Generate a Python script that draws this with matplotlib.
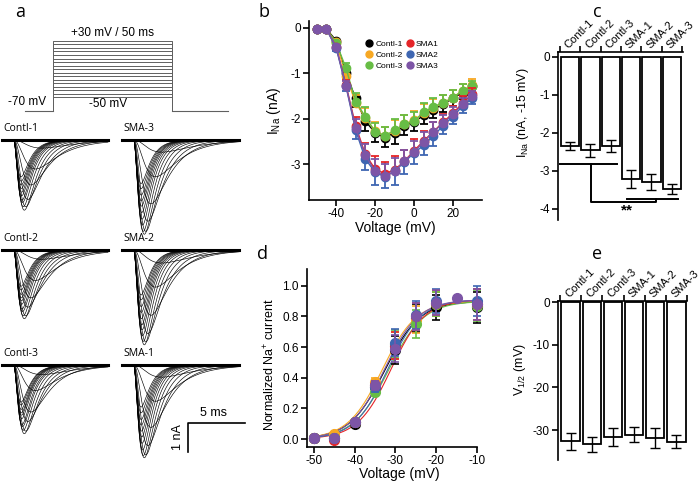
import numpy as np
import matplotlib
matplotlib.use('Agg')
import matplotlib.pyplot as plt
from matplotlib.lines import Line2D

plt.rcParams['font.family'] = ['Liberation Sans', 'DejaVu Sans']
plt.rcParams['axes.unicode_minus'] = False
plt.rcParams['mathtext.default'] = 'regular'

# ---------------- data ----------------
# panel a: voltage protocol
hold_mv = -70
step_mv = list(range(-50, 35, 5))
step_ms = 50

# panel b: I-V curves (nA)
volt_iv = [-50, -45, -40, -35, -30, -25, -20, -15, -10, -5, 0, 5, 10, 15, 20, 25, 30]
contl1_iv = [-0.03, -0.03, -0.28, -1.00, -1.55, -2.05, -2.30, -2.42, -2.30, -2.15, -2.07, -1.92, -1.80, -1.67, -1.55, -1.42, -1.27]
contl2_iv = [-0.03, -0.03, -0.32, -1.05, -1.65, -1.97, -2.27, -2.37, -2.27, -2.12, -2.03, -1.87, -1.75, -1.65, -1.53, -1.38, -1.25]
contl3_iv = [-0.03, -0.03, -0.33, -0.88, -1.62, -1.95, -2.28, -2.37, -2.25, -2.12, -2.05, -1.85, -1.73, -1.65, -1.53, -1.38, -1.28]
sma1_iv = [-0.03, -0.03, -0.42, -1.25, -2.15, -2.78, -3.10, -3.20, -3.12, -2.93, -2.70, -2.48, -2.28, -2.07, -1.88, -1.65, -1.45]
sma2_iv = [-0.03, -0.03, -0.45, -1.28, -2.25, -2.88, -3.17, -3.27, -3.15, -2.95, -2.75, -2.58, -2.37, -2.15, -1.95, -1.72, -1.55]
sma3_iv = [-0.03, -0.03, -0.42, -1.27, -2.20, -2.80, -3.15, -3.25, -3.15, -2.93, -2.73, -2.50, -2.28, -2.10, -1.90, -1.68, -1.50]
contl_err = [0.0, 0.0, 0.05, 0.10, 0.18, 0.22, 0.20, 0.20, 0.25, 0.20, 0.20, 0.20, 0.18, 0.18, 0.16, 0.15, 0.12]
sma_err = [0.0, 0.0, 0.05, 0.10, 0.20, 0.25, 0.28, 0.25, 0.30, 0.25, 0.25, 0.22, 0.22, 0.18, 0.16, 0.15, 0.12]
iv_labels = ['Contl-1', 'Contl-2', 'Contl-3', 'SMA1', 'SMA2', 'SMA3']

# panel c / e: bar summaries
groups = ['Contl-1', 'Contl-2', 'Contl-3', 'SMA-1', 'SMA-2', 'SMA-3']
ina_15 = [-2.34, -2.46, -2.34, -3.21, -3.28, -3.47]
ina_15_err = [0.10, 0.16, 0.16, 0.23, 0.21, 0.13]
vhalf = [-32.6, -33.3, -31.7, -31.1, -31.9, -32.7]
vhalf_err = [2.0, 1.8, 2.1, 1.75, 2.3, 1.6]

# panel d: activation
volt_act = [-50, -45, -40, -35, -30, -25, -20, -15, -10]
nan = np.nan
contl1_act = [0.005, 0.01, 0.10, 0.34, 0.58, 0.79, 0.86, nan, 0.86]
contl2_act = [0.01, 0.03, 0.11, 0.37, 0.61, 0.78, 0.88, nan, 0.88]
contl3_act = [0.005, 0.01, 0.11, 0.31, 0.62, 0.75, 0.88, nan, 0.87]
sma1_act = [0.005, -0.005, 0.11, 0.35, 0.61, 0.80, 0.89, nan, 0.88]
sma2_act = [0.005, 0.01, 0.11, 0.34, 0.63, 0.81, 0.90, nan, 0.90]
sma3_act = [0.005, 0.01, 0.11, 0.35, 0.59, 0.80, 0.89, 0.92, 0.88]
act_err = [0.005, 0.01, 0.01, 0.03, 0.09, 0.09, 0.08, 0.0, 0.10]
fit_k = [4.3, 4.2, 4.3, 4.1, 4.1, 4.2]
fit_max = [0.90, 0.90, 0.90, 0.91, 0.91, 0.91]

colors = ['#000000', '#f7a823', '#67bd45', '#e52528', '#3e66b2', '#7d55a6']
err_dir = [-1, 1, 1, 1, -1, 1]

W, H = 700, 484
fig = plt.figure(figsize=(W / 100, H / 100), dpi=100)


def px_axes(l, t, r, b):
    return fig.add_axes([l / W, 1 - b / H, (r - l) / W, (b - t) / H])


def style(ax, sides=('left', 'bottom')):
    for s in ['left', 'right', 'top', 'bottom']:
        ax.spines[s].set_visible(s in sides)
        ax.spines[s].set_linewidth(1.2)
    ax.tick_params(direction='out', length=4, width=1.2, labelsize=8.5, pad=2)


# ---------------- panel a ----------------
ax_p = px_axes(0, 25, 250, 120)
ax_p.axis('off')
ms_px = 2.38
ax_p.set_xlim(0, 250 / ms_px)
ax_p.set_ylim(-70 - 9 / 0.7, 30 + 16 / 0.7)
t_on, t_end = 53 / ms_px, 228 / ms_px
t_start = 25 / ms_px
for v in step_mv:
    ax_p.plot([t_on, t_on, t_on + step_ms, t_on + step_ms],
              [hold_mv, v, v, hold_mv], color='#606060', lw=0.7)
ax_p.plot([t_start, t_on], [hold_mv, hold_mv], color='#606060', lw=0.8)
ax_p.plot([t_on + step_ms, t_end], [hold_mv, hold_mv], color='#606060', lw=0.8)
ax_p.text(t_on + step_ms / 2, 33, '+30 mV / 50 ms', ha='center', va='bottom', fontsize=8.5)
ax_p.text(8 / ms_px, hold_mv + 4, '-70 mV', ha='left', va='bottom', fontsize=8.5)
ax_p.text(t_on + step_ms / 2 - 2, hold_mv + 1, '-50 mV', ha='center', va='bottom', fontsize=8.5)

# traces
ax_t = px_axes(0, 125, 250, 470)
ax_t.axis('off')
px_ms, px_na = 11.4, 29.0
ax_t.set_xlim(0, 250 / px_ms)
ax_t.set_ylim(-345 / px_na, 0)


def na_current(t, v, amp):
    # simple m^3 h shape scaled to the measured peak
    tm = 0.3 + 0.9 * np.exp(-(v + 40) / 15.0)
    th = 0.8 + 2.0 * np.exp(-(v + 40) / 12.0)
    s = np.clip(t, 0, None)
    shape = (1 - np.exp(-s / tm)) ** 3 * np.exp(-s / th)
    return amp * shape / shape.max()


col_x = [2 / px_ms, 122 / px_ms]
col_len = [9.3, 10.3]
row_y = [-(140 - 125) / px_na, -(250 - 125) / px_na, -(365 - 125) / px_na]
trace_sets = [('Contl-1', contl1_iv, 0, 0), ('SMA-3', sma3_iv, 1, 0),
              ('Contl-2', contl2_iv, 0, 1), ('SMA-2', sma2_iv, 1, 1),
              ('Contl-3', contl3_iv, 0, 2), ('SMA-1', sma1_iv, 1, 2)]
onset = 1.0
for name, iv, c, r in trace_sets:
    x0, base, ln = col_x[c], row_y[r], col_len[c]
    t = np.linspace(0, ln, 800)
    for v, amp in zip(volt_iv, iv):
        ax_t.plot(x0 + t, base + na_current(t - onset, v, amp), color='k', lw=0.45)
    ax_t.plot([x0, x0 + ln], [base, base], color='k', lw=2.2)
    ax_t.text(x0 + 0.1, base + 0.2, name, ha='left', va='bottom', fontsize=7.5,
              family=['Open Sans', 'DejaVu Sans'])

# scale bar
sx, sy = 188 / px_ms, -(423 - 125) / px_na
ax_t.plot([sx + 5, sx, sx], [sy, sy, sy - 1], color='k', lw=1.2)
ax_t.text(sx + 2.2, sy + 0.15, '5 ms', ha='center', va='bottom', fontsize=9)
ax_t.text(sx - 0.35, sy - 0.5, '1 nA', ha='right', va='center', rotation=90, fontsize=9)

# ---------------- panel b ----------------
ax_b = px_axes(309, 21, 482, 200)
style(ax_b)
iv_series = [contl1_iv, contl2_iv, contl3_iv, sma1_iv, sma2_iv, sma3_iv]
for i, ys in enumerate(iv_series):
    err = np.array(contl_err if i < 3 else sma_err)
    z = np.zeros_like(err)
    yerr = [err, z] if err_dir[i] < 0 else [z, err]
    ax_b.errorbar(volt_iv, ys, yerr=yerr, fmt='-o', color=colors[i], ms=6, lw=1,
                  elinewidth=1.3, capsize=3, capthick=1.3, clip_on=False, zorder=3 + i)
ax_b.set_xlim(-54, 35)
ax_b.set_ylim(-3.78, 0.15)
ax_b.set_xticks([-40, -20, 0, 20])
ax_b.set_yticks([0, -1, -2, -3])
ax_b.set_xlabel('Voltage (mV)', fontsize=10)
ax_b.set_ylabel('I$_{Na}$ (nA)', fontsize=10)
ax_b.xaxis.set_label_coords(0.5, -0.12)
ax_b.yaxis.set_label_coords(-0.15, 0.5)
handles = [Line2D([], [], marker='o', ls='', color=c, ms=5) for c in colors]
ax_b.legend(handles, iv_labels, ncol=2, loc='upper left', frameon=False, fontsize=6,
            bbox_to_anchor=(361 / W, 1 - 36 / H), bbox_transform=fig.transFigure,
            handletextpad=0.2, columnspacing=0.4, labelspacing=0.35, borderpad=0,
            handlelength=1.0)

# ---------------- panel c ----------------
def bar_panel(ax, vals, errs, ylim, xlim, width, yticks):
    style(ax, sides=('left', 'top'))
    x = np.arange(len(vals))
    ax.bar(x, vals, width=width, color='white', edgecolor='black', linewidth=1.3, zorder=2)
    ax.errorbar(x, vals, yerr=errs, fmt='none', ecolor='black', elinewidth=1.0,
                capsize=3.5, capthick=1.0, zorder=3)
    ax.set_xlim(*xlim)
    ax.set_ylim(*ylim)
    ax.set_yticks(yticks)
    ax.xaxis.tick_top()
    ax.set_xticks(np.arange(-0.5, len(vals), 1), minor=True)
    ax.set_xticks(x)
    ax.set_xticklabels(groups, rotation=45, ha='left', va='bottom', rotation_mode='anchor',
                       fontsize=8)
    ax.tick_params(axis='x', which='major', length=0, pad=1)
    ax.tick_params(axis='x', which='minor', length=4, width=1.2, direction='out', top=True,
                   bottom=False)


ax_c = px_axes(558, 52, 683, 220)
bar_panel(ax_c, ina_15, ina_15_err, (-4.29, 0.13), (-0.59, 5.55), 0.9, [0, -1, -2, -3, -4])
ax_c.set_ylabel('I$_{Na}$ (nA, -15 mV)', fontsize=9)
ax_c.yaxis.set_label_coords(-0.216, 0.64)
ax_c.plot([-0.49, 2.3], [-2.82, -2.82], color='k', lw=1.4, clip_on=False)
ax_c.plot([1.03, 1.03, 4.2, 4.2], [-2.82, -3.81, -3.81, -3.74], color='k', lw=1.4, clip_on=False)
ax_c.plot([2.8, 5.3], [-3.74, -3.74], color='k', lw=1.4, clip_on=False)
ax_c.text(2.8, -3.85, '**', ha='center', va='top', fontsize=11, fontweight='bold')

# ---------------- panel d ----------------
ax_d = px_axes(307, 269, 477, 447)
style(ax_d)
act_series = [contl1_act, contl2_act, contl3_act, sma1_act, sma2_act, sma3_act]
vv = np.linspace(-51, -10, 300)
for i in range(6):
    fit = fit_max[i] / (1 + np.exp((vhalf[i] - vv) / fit_k[i]))
    ax_d.plot(vv, fit, color=colors[i], lw=0.8, zorder=2)
for i, ys in enumerate(act_series):
    ax_d.errorbar(volt_act, ys, yerr=act_err, fmt='o', color=colors[i], ms=7,
                  elinewidth=1.2, capsize=3, capthick=1.2, clip_on=False, zorder=3 + i)
ax_d.set_xlim(-51.7, -10)
ax_d.set_ylim(-0.052, 1.11)
ax_d.set_xticks([-50, -40, -30, -20, -10])
ax_d.set_yticks([0, 0.2, 0.4, 0.6, 0.8, 1.0])
ax_d.set_yticklabels(['0.0', '0.2', '0.4', '0.6', '0.8', '1.0'])
ax_d.set_xlabel('Voltage (mV)', fontsize=10)
ax_d.set_ylabel('Normalized Na$^{+}$ current', fontsize=9)
ax_d.xaxis.set_label_coords(0.545, -0.112)
ax_d.yaxis.set_label_coords(-0.176, 0.46)

# ---------------- panel e ----------------
ax_e = px_axes(558, 301, 687, 460)
bar_panel(ax_e, vhalf, vhalf_err, (-37, 0.25), (-0.6, 5.45), 0.87, [0, -10, -20, -30])
ax_e.set_ylabel('V$_{1/2}$ (mV)', fontsize=9)
ax_e.yaxis.set_label_coords(-0.23, 0.57)

# panel letters
for lab, x, y in [('a', 20, 12), ('b', 264, 12), ('c', 597, 12), ('d', 263, 254), ('e', 597, 254)]:
    fig.text(x / W, 1 - y / H, lab, ha='center', va='center', fontsize=13,
             family=['Open Sans', 'DejaVu Sans'])

fig.savefig('out.png', dpi=100)
